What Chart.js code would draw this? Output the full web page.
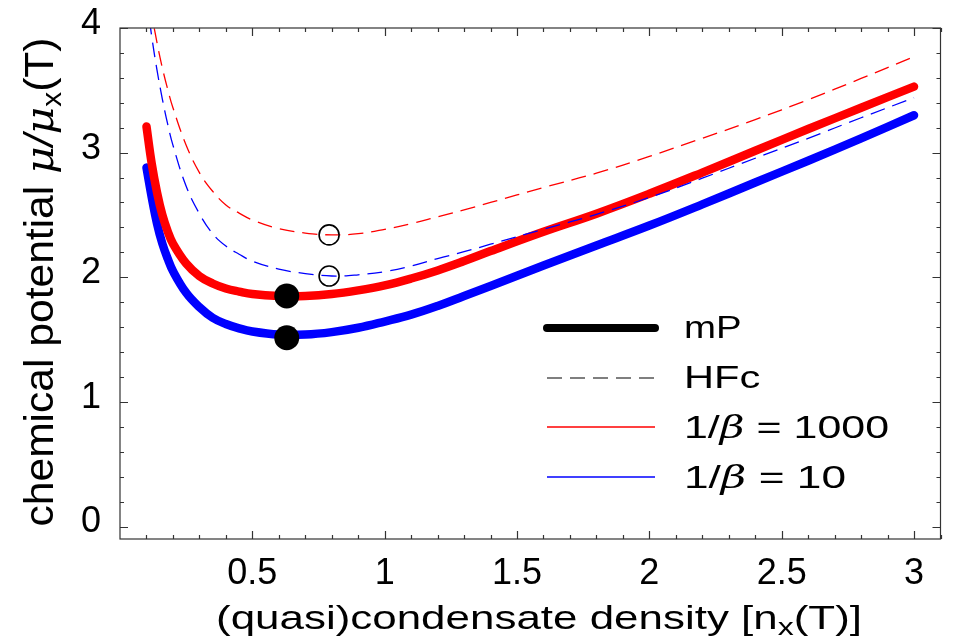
<!DOCTYPE html>
<html>
<head>
<meta charset="utf-8">
<script src="https://cdn.jsdelivr.net/npm/chart.js@4.4.1/dist/chart.umd.min.js"></script>
<style>
  html, body { margin: 0; padding: 0; background: #fff; }
  #wrap { width: 953px; height: 641px; position: relative; }
</style>
</head>
<body>
<div id="wrap"><canvas id="chart"></canvas></div>
<script>
// condensate density n/n_x(T)
const density = [0.1, 0.12, 0.14, 0.16, 0.18, 0.2, 0.25, 0.3, 0.35, 0.4, 0.45, 0.5, 0.6, 0.7, 0.8, 0.9, 1.0,
  1.1, 1.2, 1.3, 1.4, 1.6, 1.8, 2.0, 2.2, 2.4, 2.6, 2.8, 3.0];

// chemical potential mu/mu_x(T)
const mP1000 = [3.21, 2.91, 2.68, 2.50, 2.37, 2.27, 2.11, 2.01, 1.95, 1.91, 1.885, 1.865, 1.85, 1.85, 1.865, 1.895, 1.935,
  1.99, 2.055, 2.13, 2.21, 2.365, 2.51, 2.67, 2.84, 3.015, 3.19, 3.36, 3.53];
const mP10 = [2.88, 2.64, 2.43, 2.27, 2.15, 2.05, 1.875, 1.76, 1.675, 1.625, 1.59, 1.565, 1.54, 1.54, 1.56, 1.595, 1.645,
  1.70, 1.77, 1.85, 1.93, 2.095, 2.255, 2.415, 2.585, 2.76, 2.935, 3.115, 3.30];
const hfc1000 = [4.36, 4.11, 3.88, 3.68, 3.51, 3.36, 3.06, 2.84, 2.69, 2.58, 2.515, 2.46, 2.39, 2.355, 2.34, 2.35, 2.385,
  2.43, 2.485, 2.54, 2.60, 2.72, 2.835, 2.97, 3.115, 3.265, 3.425, 3.595, 3.77];
const hfc10 = [4.25, 3.93, 3.66, 3.43, 3.23, 3.06, 2.73, 2.51, 2.35, 2.25, 2.185, 2.13, 2.065, 2.03, 2.01, 2.02, 2.045,
  2.09, 2.15, 2.205, 2.265, 2.385, 2.505, 2.64, 2.795, 2.955, 3.115, 3.28, 3.44];

// minima: filled dots (mP) and open circles (HFc)
const mPMinX = [0.63, 0.63];
const mPMinY = [1.85, 1.515];
const hfcMinX = [0.79, 0.79];
const hfcMinY = [2.34, 2.01];

const xTickValues = [0.5, 1, 1.5, 2, 2.5, 3];
const xTickLabels = ['0.5', '1', '1.5', '2', '2.5', '3'];
const yTickValues = [0, 1, 2, 3, 4];
const yTickLabels = ['0', '1', '2', '3', '4'];

const RED = '#ff0000';
const BLUE = '#0000ff';
const FONT = '"Liberation Sans", Arial, sans-serif';

function toPoints(xs, ys) {
  return xs.map((x, i) => ({ x, y: ys[i] }));
}

// draws a row of text runs (different fonts / subscripts) stretched along the baseline
function drawRuns(ctx, runs, x, y, opts) {
  let total = 0;
  runs.forEach(r => {
    ctx.font = r.font;
    r.w = ctx.measureText(r.text).width;
    total += r.w;
  });
  const stretch = opts.width ? opts.width / total : (opts.stretch || 1);
  ctx.save();
  ctx.translate(x, y);
  if (opts.rotate) ctx.rotate(opts.rotate);
  ctx.scale(stretch, 1);
  ctx.fillStyle = '#000';
  ctx.textBaseline = 'alphabetic';
  ctx.textAlign = 'left';
  let cx = opts.align === 'center' ? -total / 2 : 0;
  runs.forEach(r => {
    ctx.font = r.font;
    ctx.fillText(r.text, cx, r.dy || 0);
    cx += r.w;
  });
  ctx.restore();
}

const decorations = {
  id: 'decorations',
  afterDraw(chart) {
    const ctx = chart.ctx;
    const area = chart.chartArea;
    const xs = chart.scales.x;
    const ys = chart.scales.y;

    // frame
    ctx.save();
    ctx.strokeStyle = '#333';
    ctx.lineWidth = 1.2;
    ctx.strokeRect(area.left, area.top, area.right - area.left, area.bottom - area.top);

    // inward ticks on all four sides
    ctx.beginPath();
    for (let i = 1; i <= 31; i++) {
      const v = i / 10;
      const px = Math.round(xs.getPixelForValue(v)) + 0.5;
      const len = i % 5 === 0 ? 8 : 4;
      ctx.moveTo(px, area.bottom); ctx.lineTo(px, area.bottom - len);
      ctx.moveTo(px, area.top); ctx.lineTo(px, area.top + len);
    }
    for (let i = 0; i <= 20; i++) {
      const v = i / 5;
      const py = Math.round(ys.getPixelForValue(v)) + 0.5;
      const len = i % 5 === 0 ? 8 : 4;
      ctx.moveTo(area.left, py); ctx.lineTo(area.left + len, py);
      ctx.moveTo(area.right, py); ctx.lineTo(area.right - len, py);
    }
    ctx.stroke();
    ctx.restore();

    // axis titles
    drawRuns(ctx, [
      { text: '(quasi)condensate density [n', font: '33px ' + FONT },
      { text: 'x', font: '24px ' + FONT, dy: 6 },
      { text: '(T)]', font: '33px ' + FONT }
    ], 539, 629, { align: 'center', width: 646 });

    drawRuns(ctx, [
      { text: 'chemical potential ', font: '40px ' + FONT },
      { text: 'μ', font: 'italic 40px "DejaVu Serif", serif' },
      { text: '/', font: 'italic 40px ' + FONT },
      { text: 'μ', font: 'italic 40px "DejaVu Serif", serif' },
      { text: 'x', font: '28px ' + FONT, dy: 8 },
      { text: '(T)', font: '40px ' + FONT }
    ], 53, 282, { align: 'center', width: 489, rotate: -Math.PI / 2 });

    // legend
    const lx0 = 547, lx1 = 655, tx = 684;
    ctx.save();
    ctx.lineCap = 'round';
    ctx.strokeStyle = '#000';
    ctx.lineWidth = 8;
    ctx.beginPath(); ctx.moveTo(lx0, 328); ctx.lineTo(lx1, 328); ctx.stroke();
    ctx.lineCap = 'butt';
    ctx.lineWidth = 1.2;
    ctx.setLineDash([15, 8]);
    ctx.beginPath(); ctx.moveTo(lx0, 378); ctx.lineTo(lx1, 378); ctx.stroke();
    ctx.setLineDash([]);
    ctx.lineWidth = 1.5;
    ctx.strokeStyle = RED;
    ctx.beginPath(); ctx.moveTo(lx0, 427); ctx.lineTo(lx1, 427); ctx.stroke();
    ctx.strokeStyle = BLUE;
    ctx.beginPath(); ctx.moveTo(lx0, 477); ctx.lineTo(lx1, 477); ctx.stroke();
    ctx.restore();

    const lf = '32px ' + FONT;
    const beta = 'italic 32px "DejaVu Serif", serif';
    drawRuns(ctx, [{ text: 'mP', font: lf }], tx, 338, { stretch: 1.2 });
    drawRuns(ctx, [{ text: 'HFc', font: lf }], tx, 388, { stretch: 1.3 });
    drawRuns(ctx, [
      { text: '1/', font: lf }, { text: 'β', font: beta }, { text: ' = 1000', font: lf }
    ], tx, 438, { width: 205 });
    drawRuns(ctx, [
      { text: '1/', font: lf }, { text: 'β', font: beta }, { text: ' = 10', font: lf }
    ], tx, 488, { width: 162 });
  }
};

const lineDefaults = {
  pointRadius: 0,
  fill: false,
  tension: 0.4
};

function noPadding(scale) {
  scale.paddingTop = 0;
  scale.paddingBottom = 0;
  scale.paddingLeft = 0;
  scale.paddingRight = 0;
}

new Chart(document.getElementById('chart'), {
  type: 'line',
  data: {
    datasets: [
      {
        label: 'mP minimum',
        data: toPoints(mPMinX, mPMinY),
        showLine: false,
        pointRadius: 12.5,
        pointBackgroundColor: '#000',
        pointBorderWidth: 0
      },
      {
        label: 'HFc minimum',
        data: toPoints(hfcMinX, hfcMinY),
        showLine: false,
        pointRadius: 10,
        pointBackgroundColor: 'rgba(0,0,0,0)',
        pointBorderColor: '#000',
        pointBorderWidth: 1.6
      },
      { ...lineDefaults, label: 'HFc, 1/β = 1000', data: toPoints(density, hfc1000),
        borderColor: RED, borderWidth: 1.3, borderDash: [15, 8] },
      { ...lineDefaults, label: 'HFc, 1/β = 10', data: toPoints(density, hfc10),
        borderColor: BLUE, borderWidth: 1.3, borderDash: [15, 8] },
      { ...lineDefaults, label: 'mP, 1/β = 1000', data: toPoints(density, mP1000),
        borderColor: RED, borderWidth: 8.5, borderCapStyle: 'round', borderJoinStyle: 'round' },
      { ...lineDefaults, label: 'mP, 1/β = 10', data: toPoints(density, mP10),
        borderColor: BLUE, borderWidth: 8.5, borderCapStyle: 'round', borderJoinStyle: 'round' }
    ]
  },
  options: {
    responsive: true,
    maintainAspectRatio: false,
    animation: false,
    layout: { padding: { top: 28, right: 5, left: 0, bottom: 0 } },
    plugins: {
      legend: { display: false },
      tooltip: { enabled: false }
    },
    scales: {
      x: {
        type: 'linear',
        min: 0,
        max: 3.1,
        grid: { display: false, drawTicks: false },
        border: { display: false },
        afterBuildTicks: scale => { scale.ticks = xTickValues.map(v => ({ value: v })); },
        afterFit: scale => { scale.height = 102; noPadding(scale); },
        ticks: {
          autoSkip: false,
          maxRotation: 0,
          padding: 13,
          color: '#000',
          font: { family: FONT, size: 36 },
          callback: (v, i) => xTickLabels[i]
        }
      },
      y: {
        type: 'linear',
        min: -0.1,
        max: 4,
        grid: { display: false, drawTicks: false },
        border: { display: false },
        afterBuildTicks: scale => { scale.ticks = yTickValues.map(v => ({ value: v })); },
        afterFit: scale => { scale.width = 120; noPadding(scale); },
        ticks: {
          autoSkip: false,
          padding: 19,
          labelOffset: -4,
          color: '#000',
          font: { family: FONT, size: 36 },
          callback: (v, i) => yTickLabels[i]
        }
      }
    }
  },
  plugins: [decorations]
});
</script>
</body>
</html>
